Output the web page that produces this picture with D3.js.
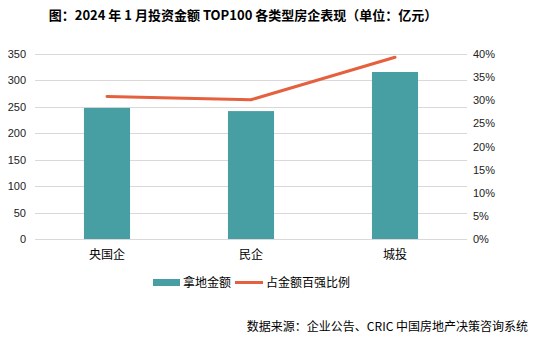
<!DOCTYPE html>
<html>
<head>
<meta charset="utf-8">
<script src="https://cdn.jsdelivr.net/npm/d3@7"></script>
<style>
  html, body { margin: 0; padding: 0; background: #fff; }
  svg { display: block; font-family: "Noto Sans CJK SC", "Microsoft YaHei", sans-serif; }
</style>
</head>
<body>
<svg id="chart" width="536" height="344"></svg>
<script>
const categories = ["央国企", "民企", "城投"];
const landAmount = [248, 242, 316];          // 拿地金额（亿元）
const shareOfTop100 = [0.308, 0.301, 0.393]; // 占金额百强比例
const leftTicks = [0, 50, 100, 150, 200, 250, 300, 350];
const rightTicks = [0, 0.05, 0.10, 0.15, 0.20, 0.25, 0.30, 0.35, 0.40];

const svg = d3.select("#chart");
const plot = { left: 35, right: 467, top: 54, bottom: 239 };

const x = d3.scaleBand().domain(categories).range([plot.left, plot.right]).padding(0);
const yL = d3.scaleLinear().domain([0, 350]).range([plot.bottom, plot.top]);
const yR = d3.scaleLinear().domain([0, 0.40]).range([plot.bottom, plot.top]);

// title
svg.append("text")
  .attr("x", 243).attr("y", 20)
  .attr("text-anchor", "middle")
  .attr("font-size", 13).attr("font-weight", "bold").attr("fill", "#000")
  .text("图：2024 年 1 月投资金额 TOP100 各类型房企表现（单位：亿元）");

// horizontal gridlines
svg.append("g").selectAll("line").data(leftTicks).join("line")
  .attr("x1", plot.left).attr("x2", plot.right)
  .attr("y1", d => Math.round(yL(d)) + 0.5).attr("y2", d => Math.round(yL(d)) + 0.5)
  .attr("stroke", "#d9d9d9").attr("stroke-width", 1);

// left axis
const axL = svg.append("g").attr("transform", `translate(${plot.left},0)`)
  .call(d3.axisLeft(yL).tickValues(leftTicks).tickSize(0).tickPadding(9));
axL.select(".domain").remove();
axL.selectAll("text").attr("font-size", 11).attr("fill", "#222")
  .attr("font-family", "Liberation Sans, Arial, sans-serif");

// right axis
const axR = svg.append("g").attr("transform", `translate(${plot.right},0)`)
  .call(d3.axisRight(yR).tickValues(rightTicks).tickSize(0).tickPadding(6).tickFormat(d3.format(".0%")));
axR.select(".domain").remove();
axR.selectAll("text").attr("font-size", 11).attr("fill", "#222")
  .attr("font-family", "Liberation Sans, Arial, sans-serif");

// bars
const barW = x.bandwidth() * 0.32;
svg.append("g").selectAll("rect").data(categories).join("rect")
  .attr("x", d => x(d) + x.bandwidth() / 2 - barW / 2)
  .attr("width", barW)
  .attr("y", (d, i) => yL(landAmount[i]))
  .attr("height", (d, i) => yL(0) - yL(landAmount[i]))
  .attr("fill", "#479ea3");

// category labels
svg.append("g").selectAll("text").data(categories).join("text")
  .attr("x", d => x(d) + x.bandwidth() / 2)
  .attr("y", 259)
  .attr("text-anchor", "middle")
  .attr("font-size", 12).attr("fill", "#000")
  .text(d => d);

// share line
const line = d3.line()
  .x((d, i) => x(categories[i]) + x.bandwidth() / 2)
  .y(d => yR(d));
svg.append("path").datum(shareOfTop100)
  .attr("d", line)
  .attr("fill", "none")
  .attr("stroke", "#e5603e")
  .attr("stroke-width", 3)
  .attr("stroke-linecap", "round")
  .attr("stroke-linejoin", "round");

// legend
const lg = svg.append("g");
lg.append("rect").attr("x", 153).attr("y", 279).attr("width", 27).attr("height", 7).attr("fill", "#479ea3");
lg.append("text").attr("x", 183).attr("y", 287).attr("font-size", 12).attr("fill", "#000").text("拿地金额");
lg.append("line").attr("x1", 235).attr("x2", 263).attr("y1", 282.5).attr("y2", 282.5)
  .attr("stroke", "#e5603e").attr("stroke-width", 3);
lg.append("text").attr("x", 266).attr("y", 287).attr("font-size", 12).attr("fill", "#000").text("占金额百强比例");

// source note
svg.append("text")
  .attr("x", 528).attr("y", 331)
  .attr("text-anchor", "end")
  .attr("font-size", 12).attr("fill", "#000")
  .text("数据来源：企业公告、CRIC 中国房地产决策咨询系统");
</script>
</body>
</html>
